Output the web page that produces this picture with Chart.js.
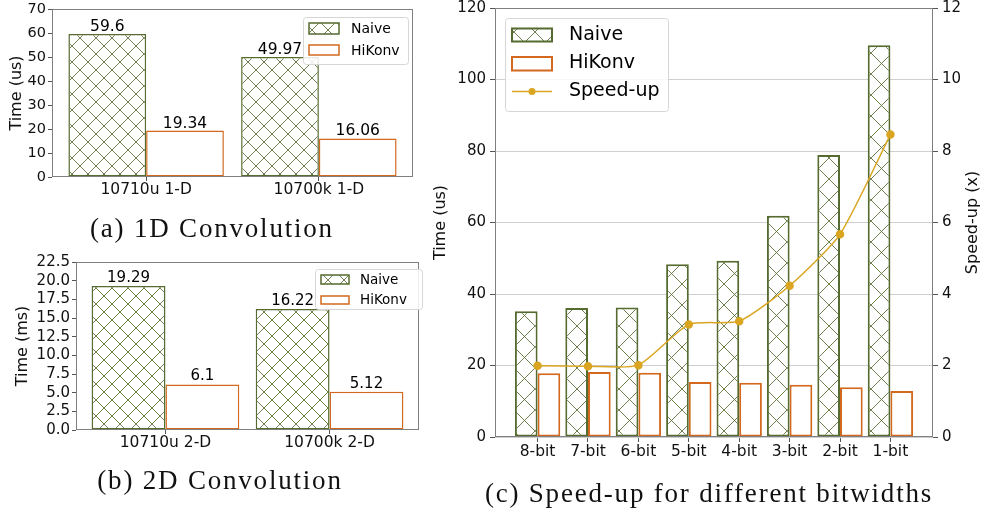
<!DOCTYPE html>
<html><head><meta charset="utf-8">
<script src="https://cdn.jsdelivr.net/npm/chart.js@4.4.1/dist/chart.umd.min.js"></script>
<style>
html,body{margin:0;padding:0;background:#fff;width:982px;height:510px;overflow:hidden;}
body{position:relative;}
canvas{position:absolute;}
.cap{position:absolute;font-family:"Liberation Serif","Times New Roman",serif;font-size:27px;color:#111;text-align:center;white-space:nowrap;line-height:30px;letter-spacing:1.8px;}
</style></head><body>
<canvas id="ca" width="430" height="215" style="left:0px;top:-10px"></canvas>
<canvas id="cb" width="430" height="215" style="left:0px;top:240px"></canvas>
<canvas id="cc" width="552" height="480" style="left:430px;top:-10px"></canvas>
<div class="cap" style="left:0px;top:213px;width:424px">(a) 1D Convolution</div>
<div class="cap" style="left:0px;top:465px;width:440px">(b) 2D Convolution</div>
<div class="cap" style="left:408px;top:478px;width:602px">(c) Speed-up for different bitwidths</div>
<script>
// ---------- data ----------
const seriesNames = ['Naive', 'HiKonv', 'Speed-up'];
const catsA = ['10710u 1-D', '10700k 1-D'];
const naiveA = [59.6, 49.97];
const hikonvA = [19.34, 16.06];
const yTicksA = [0, 10, 20, 30, 40, 50, 60, 70];

const catsB = ['10710u 2-D', '10700k 2-D'];
const naiveB = [19.29, 16.22];
const hikonvB = [6.1, 5.12];
const yTicksB = [0, 2.5, 5, 7.5, 10, 12.5, 15, 17.5, 20, 22.5];

const catsC = ['8-bit', '7-bit', '6-bit', '5-bit', '4-bit', '3-bit', '2-bit', '1-bit'];
const naiveC = [35.2, 36.1, 36.2, 48.3, 49.3, 61.9, 78.9, 109.6];
const hikonvC = [17.8, 18.2, 18.0, 15.4, 15.2, 14.6, 13.9, 12.9];
const speedC = [1.99, 1.98, 2.01, 3.15, 3.24, 4.23, 5.67, 8.46];
const yTicksC = [0, 20, 40, 60, 80, 100, 120];
const y2TicksC = [0, 2, 4, 6, 8, 10, 12];

// ---------- styles ----------
const GREEN = '#556b2f';
const ORANGE = '#d2691e';
const GOLD = '#daa520';
const SPINE = '#808080';
const TICKC = '#555555';
const SANS = '"DejaVu Sans", sans-serif';

function hatch(p, color, lw) {
  const c = document.createElement('canvas');
  c.width = p; c.height = p;
  const g = c.getContext('2d');
  g.fillStyle = '#fff'; g.fillRect(0, 0, p, p);
  g.strokeStyle = color; g.lineWidth = lw;
  g.beginPath();
  for (const dx of [-p, 0, p]) {
    g.moveTo(dx, 0); g.lineTo(dx + p, p);
    g.moveTo(dx + p, 0); g.lineTo(dx, p);
  }
  g.stroke();
  return g.createPattern(c, 'repeat');
}

const framePlugin = {
  id: 'frame',
  afterDatasetsDraw(chart) {
    const a = chart.chartArea, ctx = chart.ctx;
    ctx.save();
    ctx.strokeStyle = SPINE; ctx.lineWidth = 1;
    ctx.strokeRect(a.left + 0.5, a.top + 0.5, a.right - a.left - 1, a.bottom - a.top - 1);
    ctx.restore();
  }
};

function rightTitlePlugin(text, x) {
  return {
    id: 'rtitle',
    afterDraw(chart) {
      const a = chart.chartArea, ctx = chart.ctx;
      ctx.save();
      ctx.translate(x, (a.top + a.bottom) / 2);
      ctx.rotate(-Math.PI / 2);
      ctx.font = '16px ' + SANS;
      ctx.fillStyle = '#111';
      ctx.textAlign = 'center';
      ctx.textBaseline = 'middle';
      ctx.fillText(text, 0, 0);
      ctx.restore();
    }
  };
}

function labelPlugin(arrs, size, gap) {
  return {
    id: 'vals',
    afterDatasetsDraw(chart) {
      const ctx = chart.ctx;
      ctx.save();
      ctx.font = size + 'px ' + SANS;
      ctx.fillStyle = '#000';
      ctx.textAlign = 'center';
      ctx.textBaseline = 'alphabetic';
      arrs.forEach((arr, di) => {
        const meta = chart.getDatasetMeta(di);
        meta.data.forEach((el, i) => ctx.fillText(String(arr[i]), el.x, el.y - gap));
      });
      ctx.restore();
    }
  };
}

function legendPlugin(cfg) {
  return {
    id: 'lg',
    afterDraw(chart) {
      const ctx = chart.ctx;
      ctx.save();
      const b = cfg.box;
      ctx.beginPath();
      ctx.roundRect(b[0] + 0.5, b[1] + 0.5, b[2] - b[0], b[3] - b[1], 3);
      ctx.fillStyle = 'rgba(255,255,255,0.85)';
      ctx.fill();
      ctx.strokeStyle = '#d6d6d6'; ctx.lineWidth = 1;
      ctx.stroke();
      ctx.font = cfg.size + 'px ' + SANS;
      ctx.textBaseline = 'middle';
      ctx.textAlign = 'left';
      cfg.items.forEach(it => {
        if (it.kind === 'bar') {
          ctx.fillStyle = it.fill;
          ctx.fillRect(cfg.px0, it.y0, cfg.px1 - cfg.px0, it.y1 - it.y0);
          ctx.strokeStyle = it.color; ctx.lineWidth = cfg.lw;
          ctx.strokeRect(cfg.px0, it.y0, cfg.px1 - cfg.px0, it.y1 - it.y0);
        } else {
          ctx.strokeStyle = it.color; ctx.lineWidth = 1.5;
          ctx.beginPath(); ctx.moveTo(cfg.px0, it.ty); ctx.lineTo(cfg.px1, it.ty); ctx.stroke();
          ctx.fillStyle = it.color;
          ctx.beginPath(); ctx.arc((cfg.px0 + cfg.px1) / 2, it.ty, 3.5, 0, Math.PI * 2); ctx.fill();
        }
        ctx.fillStyle = '#000';
        ctx.fillText(it.label, cfg.tx, it.ty);
      });
      ctx.restore();
    }
  };
}

function pts(arr) { return arr.map((v, i) => ({ x: i, y: v })); }

function barChart(id, o) {
  const canvas = document.getElementById(id);
  const ctx = canvas.getContext('2d');
  const pat = hatch(o.hatchP, 'rgba(85,107,47,0.85)', 1);
  const datasets = [
    { label: seriesNames[0], type: 'bar', data: pts(o.naive), backgroundColor: pat, borderColor: GREEN,
      borderWidth: o.bw, borderSkipped: false, order: 1, xAxisID: 'x', yAxisID: 'y' },
    { label: seriesNames[1], type: 'bar', data: pts(o.hikonv), backgroundColor: '#fff', borderColor: ORANGE,
      borderWidth: o.bw, borderSkipped: false, order: 1, xAxisID: 'x', yAxisID: 'y' }
  ];
  const scales = {
    x: {
      type: 'linear', min: o.xmin, max: o.xmax, offset: false,
      afterBuildTicks: s => { s.ticks = o.cats.map((_, i) => ({ value: i })); },
      afterFit: s => { s.height = o.xh; },
      ticks: { autoSkip: false, maxRotation: 0, callback: v => o.cats[v], color: '#111',
               font: { family: SANS, size: o.xfs }, padding: o.xpad },
      grid: { offset: false, drawOnChartArea: false, tickLength: o.xtl, tickColor: TICKC },
      border: { display: false }
    },
    y: {
      type: 'linear', position: 'left', min: 0, max: o.ymax,
      afterBuildTicks: s => { s.ticks = o.yTicks.map(v => ({ value: v })); },
      afterFit: s => { s.width = o.yw; },
      ticks: { autoSkip: false, color: '#111', font: { family: SANS, size: o.yfs }, padding: o.ypad,
               callback: v => o.yfmt ? v.toFixed(o.yfmt) : String(v) },
      grid: { drawOnChartArea: !!o.grid, color: '#cfcfcf', tickLength: o.ytl, tickColor: TICKC },
      border: { display: false },
      title: { display: true, text: o.ytitle, color: '#111', font: { family: SANS, size: 16 },
               padding: { top: o.ytp, bottom: 0 } }
    }
  };
  const plugins = [framePlugin, legendPlugin(o.legend(pat))];
  if (o.speed) {
    datasets.push({ label: seriesNames[2], type: 'line', data: pts(o.speed), borderColor: GOLD,
      backgroundColor: GOLD, pointBackgroundColor: GOLD, pointBorderColor: GOLD, pointRadius: 3.5,
      borderWidth: 1.5, tension: 0.2, order: 0, xAxisID: 'x', yAxisID: 'y2', fill: false });
    scales.y2 = {
      type: 'linear', position: 'right', min: 0, max: 12,
      afterBuildTicks: s => { s.ticks = y2TicksC.map(v => ({ value: v })); },
      afterFit: s => { s.width = o.y2w; },
      ticks: { autoSkip: false, color: '#111', font: { family: SANS, size: o.yfs }, padding: o.ypad, callback: v => String(v) },
      grid: { drawOnChartArea: false, tickLength: o.ytl, tickColor: TICKC },
      border: { display: false }
    };
    plugins.push(rightTitlePlugin('Speed-up (x)', o.rtx));
  }
  if (o.labels) plugins.push(labelPlugin([o.naive, o.hikonv], o.lfs, o.lgap));
  return new Chart(ctx, {
    data: { datasets },
    options: {
      responsive: false, animation: false, devicePixelRatio: 1,
      layout: { padding: o.pad },
      datasets: { bar: { categoryPercentage: 0.9, barPercentage: 1.0 } },
      plugins: { legend: { display: false }, tooltip: { enabled: false } },
      scales
    },
    plugins
  });
}

// (a)
barChart('ca', {
  cats: catsA, naive: naiveA, hikonv: hikonvA, yTicks: yTicksA, ymax: 70,
  xmin: -0.545, xmax: 1.545, hatchP: 16, bw: 1.5,
  pad: { top: 19, right: 17, left: 0, bottom: 0 }, yw: 52, xh: 28,
  xfs: 15.5, yfs: 14.5, xtl: 4, xpad: 0, ytl: 4, ypad: 2, ytitle: 'Time (us)', ytp: 7,
  labels: true, lfs: 15.5, lgap: 3,
  legend: pat => ({ box: [303, 27, 408, 74], px0: 309, px1: 339, tx: 351, size: 14, lw: 1.5,
    items: [ { kind: 'bar', fill: pat, color: GREEN, y0: 33, y1: 44, ty: 39, label: seriesNames[0] },
             { kind: 'bar', fill: '#fff', color: ORANGE, y0: 55, y1: 65, ty: 61, label: seriesNames[1] } ] })
});

// (b)
barChart('cb', {
  cats: catsB, naive: naiveB, hikonv: hikonvB, yTicks: yTicksB, ymax: 22.5, yfmt: 1,
  xmin: -0.545, xmax: 1.545, hatchP: 16, bw: 1.5,
  pad: { top: 22, right: 11, left: 0, bottom: 0 }, yw: 76, xh: 25,
  xfs: 15.5, yfs: 15, xtl: 4, xpad: 0, ytl: 4, ypad: 2, ytitle: 'Time (ms)', ytp: 13,
  labels: true, lfs: 15, lgap: 4,
  legend: pat => ({ box: [315, 29, 422, 69], px0: 321, px1: 349, tx: 360, size: 13.5, lw: 1.5,
    items: [ { kind: 'bar', fill: pat, color: GREEN, y0: 35, y1: 44, ty: 40, label: seriesNames[0] },
             { kind: 'bar', fill: '#fff', color: ORANGE, y0: 56, y1: 64, ty: 60, label: seriesNames[1] } ] })
});

// (c)
barChart('cc', {
  cats: catsC, naive: naiveC, hikonv: hikonvC, speed: speedC, yTicks: yTicksC, ymax: 120,
  xmin: -0.845, xmax: 7.845, hatchP: 21, bw: 2, grid: true, rtx: 543,
  pad: { top: 18, right: 0, left: 0, bottom: 0 }, yw: 65, y2w: 49, xh: 33,
  xfs: 15.5, yfs: 15, xtl: 5, xpad: 1, ytl: 5, ypad: 4, ytitle: 'Time (us)', ytp: 1,
  labels: false,
  legend: pat => ({ box: [75, 28, 238, 121], px0: 82, px1: 122, tx: 139, size: 19, lw: 2,
    items: [ { kind: 'bar', fill: pat, color: GREEN, y0: 38.5, y1: 51.5, ty: 45, label: seriesNames[0] },
             { kind: 'bar', fill: '#fff', color: ORANGE, y0: 67, y1: 80.5, ty: 73.5, label: seriesNames[1] },
             { kind: 'line', color: GOLD, ty: 101.5, label: seriesNames[2] } ] })
});
</script>
</body></html>
